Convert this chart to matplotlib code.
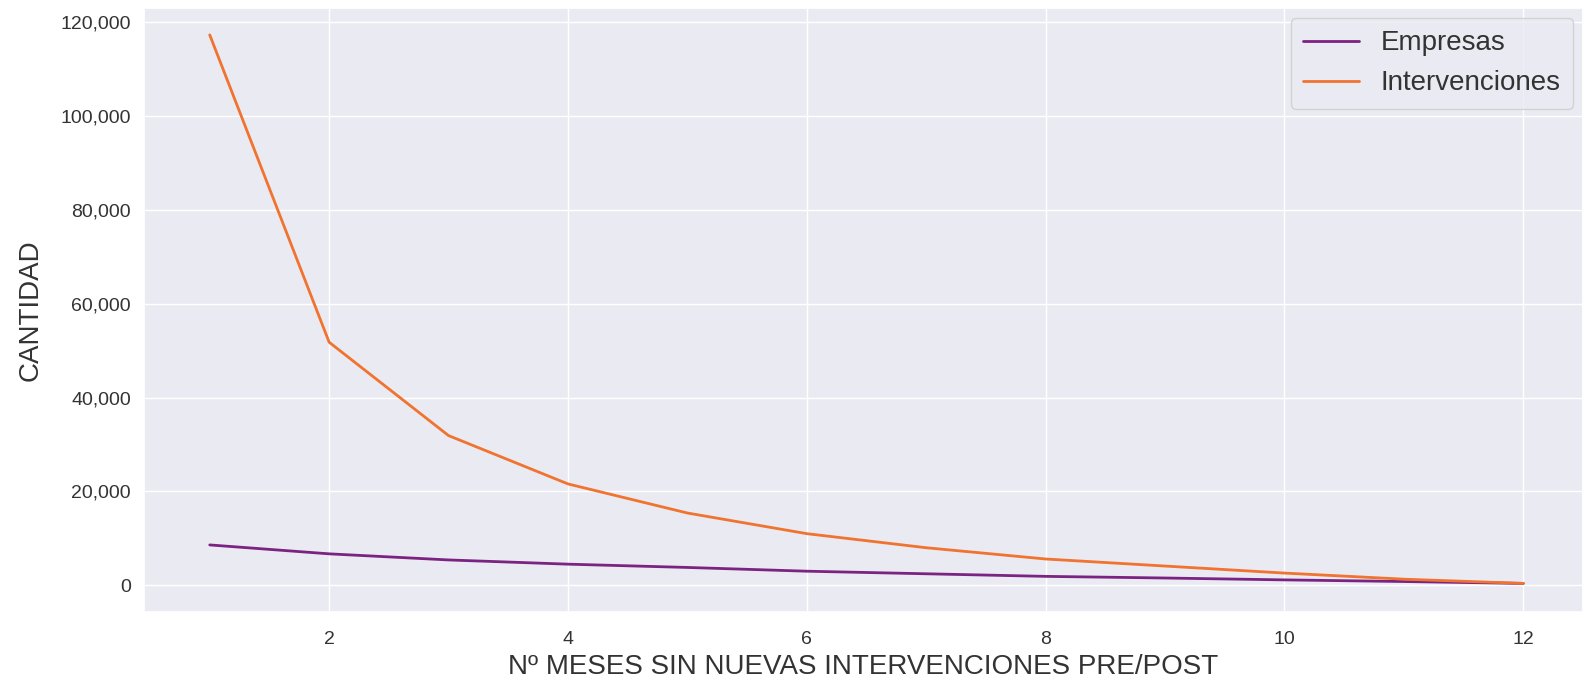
import matplotlib
matplotlib.use("Agg")
import matplotlib.pyplot as plt
import matplotlib.ticker as mticker
import seaborn as sns

meses = [1, 2, 3, 4, 5, 6, 7, 8, 9, 10, 11, 12]
empresas = [8600, 6700, 5400, 4500, 3800, 3000, 2450, 1900, 1550, 1150, 800, 400]
intervenciones = [117300, 51800, 31900, 21600, 15400, 11000, 8000, 5600, 4100, 2600, 1300, 400]

sns.set_theme(style="darkgrid")
plt.rcParams['font.family'] = ['Liberation Sans', 'DejaVu Sans']

fig = plt.figure(figsize=(15.83, 6.78), dpi=100)
ax = fig.add_axes([0.091, 0.098, 0.909, 0.89])

ax.plot(meses, empresas, color="#7b2382", lw=2, label="Empresas")
ax.plot(meses, intervenciones, color="#f0732f", lw=2, label="Intervenciones")

ax.set_xlim(0.45, 12.5)
ax.set_ylim(-5600, 123000)
ax.set_yticks([0, 20000, 40000, 60000, 80000, 100000, 120000])
ax.set_xticks([2, 4, 6, 8, 10, 12])
ax.yaxis.set_major_formatter(mticker.FuncFormatter(lambda v, p: f"{int(v):,}"))
ax.tick_params(axis='both', labelsize=14, colors="#333333")
ax.tick_params(axis='x', pad=8)

ax.set_xlabel("Nº MESES SIN NUEVAS INTERVENCIONES PRE/POST", fontsize=20, color="#333333", labelpad=4)
ax.set_ylabel("CANTIDAD", fontsize=20, color="#333333", labelpad=12)

leg = ax.legend(loc="upper right", fontsize=20, frameon=True, handlelength=2.0,
                borderaxespad=0.35, labelspacing=0.5, borderpad=0.45)
for t in leg.get_texts():
    t.set_color("#333333")

fig.savefig("out.png", dpi=100)
